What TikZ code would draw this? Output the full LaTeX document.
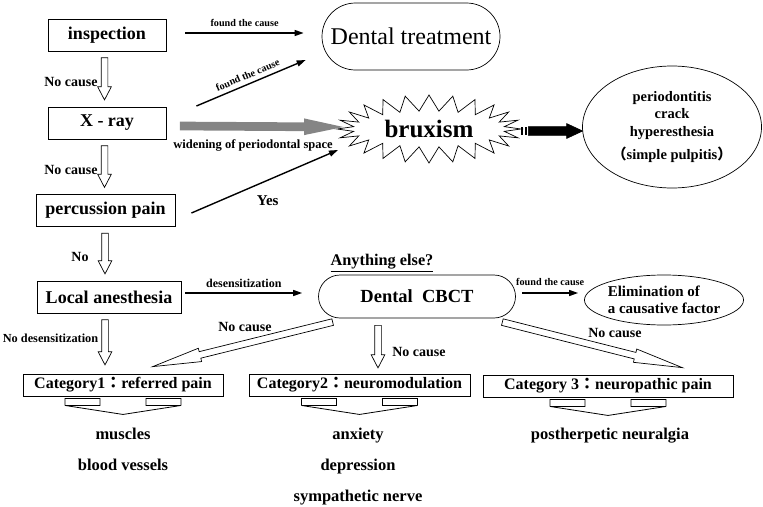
\documentclass[tikz,border=0pt]{standalone}
\usepackage{fontspec}
\setmainfont{Liberation Serif}
\newfontfamily\cjk{Noto Sans CJK JP}
\usetikzlibrary{shapes.geometric,shapes.misc,shapes.symbols,shapes.arrows,arrows.meta,calc,positioning}

\newcommand\fsz[1]{\fontsize{#1}{#1}\selectfont}
\newcommand\fszl[2]{\fontsize{#1}{#2}\selectfont}

\tikzset{
    stepbox/.style={draw, line width=0.9pt, minimum height=32pt, inner sep=0pt, font=\fsz{18}\bfseries},
    catbox/.style={draw, line width=0.9pt, minimum height=22pt, inner sep=0pt, font=\fsz{16}\bfseries},
    pill/.style={draw, rounded rectangle, line width=0.7pt, inner sep=0pt},
    oval/.style={draw, ellipse, line width=0.7pt, inner sep=0pt, align=center},
    flow/.style={line width=1.4pt, -{Triangle[length=9pt,width=6pt]}},
    tiny/.style={font=\fsz{10.2}\bfseries},
    lbl/.style={font=\fsz{14}\bfseries},
    item/.style={font=\fsz{16.5}\bfseries, anchor=base},
    hollow/.style={single arrow, draw, fill=white, line width=0.7pt, inner xsep=0pt, inner ysep=3pt,
        single arrow head extend=3.5pt, single arrow tip angle=55},
    slim/.style={single arrow tip angle=16},
    grayarr/.style={draw=none, fill=black!48, inner ysep=4pt, single arrow head extend=4pt, single arrow tip angle=24},
    blackarr/.style={fill=black, inner ysep=4pt, single arrow head extend=3pt, single arrow tip angle=50},
}

% block arrow from #2 to #3
\newcommand\blockarrow[3][]{%
    \path let \p1=(#2), \p2=(#3),
        \n1={atan2(\y2-\y1,\x2-\x1)}, \n2={veclen(\x2-\x1,\y2-\y1)} in
        node[hollow, #1, anchor=tail, minimum height=\n2, rotate=\n1] at (\p1) {};
}

\begin{document}
\begin{tikzpicture}[x=1pt, y=-1pt]
    \useasboundingbox (0,0) rectangle (763,506);

    % left column
    \node[stepbox, minimum width=118pt] (insp)  at (107,35)    {inspection};
    \node[stepbox, minimum width=118pt] (xray)  at (107,123)   {X - ray};
    \node[stepbox, minimum width=139pt] (perc)  at (105.5,210.5) {percussion pain};
    \node[stepbox, minimum width=144pt] (local) at (109,297)   {Local anesthesia};

    \node[pill, minimum width=178pt, minimum height=67pt, font=\fsz{24}] (treat) at (411,36.5) {Dental treatment};
    \node[draw, starburst, line width=0.7pt, starburst points=24, starburst point height=16pt, random starburst=0,
          minimum width=184pt, minimum height=68pt, inner sep=0pt, font=\fsz{25}\bfseries] (brux) at (429,129) {bruxism};
    \node[oval, minimum width=179pt, minimum height=122pt, font=\fszl{14.5}{17.5}\bfseries] (cond) at (672,127)
        {periodontitis\\crack\\hyperesthesia\\[6pt]{\cjk（}simple pulpitis{\cjk）}};

    \node[pill, minimum width=197pt, minimum height=43pt, font=\fsz{18.5}\bfseries] (cbct) at (417,296.5) {Dental\ \ CBCT};
    \node[font=\fsz{16.3}\bfseries] (else) at (382,263) {\underline{Anything else?}};
    \node[oval, minimum width=152pt, minimum height=50pt, font=\fszl{15}{17}\bfseries, align=left] (elim) at (664,300)
        {Elimination of\\ a causative factor};

    \node[catbox, minimum width=200pt] (cat1) at (123,385)   {Category1{\cjk：}referred pain};
    \node[catbox, minimum width=221pt] (cat2) at (359.5,385) {Category2{\cjk：}neuromodulation};
    \node[catbox, minimum width=250pt] (cat3) at (608,386)   {Category 3{\cjk：}neuropathic pain};

    \foreach \c in {cat1,cat2,cat3}
        \draw[line width=0.8pt] ($(\c.south)+(-58,9)$) -- ++(0,-7) -- ++(35,0) -- ++(0,7) -- ++(-35,0)
            -- ($(\c.south)+(0,18)$) -- ($(\c.south)+(58,9)$) -- ++(-35,0) -- ++(0,-7) -- ++(35,0) -- ++(0,7);

    % hollow arrows
    \blockarrow{$(insp.south)+(-2.5,6)$}{$(xray.north)+(-2.5,-7)$}
    \blockarrow{$(xray.south)+(-2.5,6)$}{$(perc.north)+(-1,-7)$}
    \blockarrow{$(perc.south)+(-0.5,6)$}{$(local.north)+(-4,-7)$}
    \blockarrow{$(local.south)+(-4,6)$}{$(cat1.north)+(-18,-9)$}
    \blockarrow[slim]{$(cbct.center)+(-84,25.5)$}{$(cat1.north)+(30,-7)$}
    \blockarrow{$(cbct.center)+(-39,28.5)$}{$(cat2.north)+(18.5,-6)$}
    \blockarrow[slim]{$(cbct.center)+(85,25.5)$}{$(cat3.north)+(74,-7)$}

    \node[lbl] (nc1) at (71,82)  {No cause};
    \node[lbl] (nc2) at (71,170) {No cause};
    \node[lbl] (no)  at (80,257) {No};
    \node[font=\fsz{12.3}\bfseries] (nodes) at (50.5,338) {No desensitization};
    \node[lbl] (nc3) at (245,327) {No cause};
    \node[lbl] (nc4) at (419,352) {No cause};
    \node[lbl] (nc5) at (615,333) {No cause};

    % thin arrows
    \draw[flow] ($(insp.east)+(19,-2)$) -- ($(treat.west)+(-18,-3.5)$)
        node[midway, above=2pt, tiny] {found the cause};
    \draw[flow] ($(xray.east)+(30,-17)$) -- ($(treat.west)+(-16,23.5)$)
        node[midway, above=1pt, sloped, tiny] {found the cause};
    \draw[flow] ($(perc.east)+(16,2.5)$) -- ($(brux.center)+(-91,21)$)
        node[pos=0.52, below=11pt, font=\fsz{15}\bfseries] {Yes};
    \draw[flow] ($(local.east)+(4,-4)$) -- ($(cbct.west)+(-16,-3.5)$)
        node[midway, above=1pt, font=\fsz{12}\bfseries] {desensitization};
    \draw[flow] ($(cbct.east)+(6.5,-3.5)$) -- ($(elim.west)+(-6,-7)$)
        node[midway, above=3pt, tiny] {found the cause};

    % bruxism arrows
    \blockarrow[grayarr]{$(xray.east)+(13,3)$}{$(brux.center)+(-86,-2)$}
    \node[font=\fsz{12.5}\bfseries] (widen) at (253,145) {widening of periodontal space};
    \foreach \a/\b in {92/2,95.5/2.5}
        \fill ($(brux.center)+(\a,-2)$) rectangle ++(\b,8);
    \blockarrow[blackarr]{$(brux.center)+(99,2)$}{$(cond.west)+(0,4)$}

    % lower texts
    \node[item] (mus)   at (123,439) {muscles};
    \node[item] (blood) at (123,470) {blood vessels};
    \node[item] (anx)   at (358,439) {anxiety};
    \node[item] (depr)  at (358,470) {depression};
    \node[item] (symp)  at (358,501) {sympathetic nerve};
    \node[item] (post)  at (610,439) {postherpetic neuralgia};
\end{tikzpicture}
\end{document}
